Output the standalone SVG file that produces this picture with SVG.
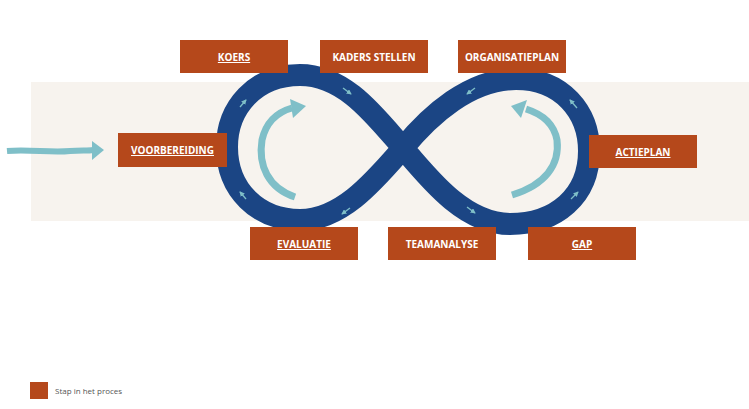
<svg xmlns="http://www.w3.org/2000/svg" width="749" height="409" viewBox="0 0 749 409">
<defs>
<style>
.box{fill:#B5481B}
.lbl{font-family:"Open Sans","Liberation Sans",sans-serif;font-weight:700;font-size:10px;fill:#ffffff;text-anchor:middle}
.u{text-decoration:underline}
.loop{fill:none;stroke:#1B4584;stroke-width:22;stroke-linejoin:round}
.small{fill:none;stroke:#7FBFC8;stroke-width:1.3}
.big{fill:none;stroke:#7FBFC8;stroke-width:7;stroke-linecap:butt}
.head{fill:#7FBFC8}
</style>
<marker id="sa" viewBox="0 0 6 6" refX="5" refY="3" markerWidth="4" markerHeight="4" orient="auto"><path d="M0,0 L6,3 L0,6 Z" fill="#7FBFC8"/></marker>
</defs>
<rect x="0" y="0" width="749" height="409" fill="#ffffff"/>
<rect id="band" x="31" y="82" width="718" height="139" fill="#F7F3EE"/>

<g id="connectors">
<path class="loop" d="M403,148 C430,115 470,79 516,79 C562,79 589,112 589,151 C589,196 556,224 510,224 C465,224 430,180 403,148 C375,116 345,75 300,75 C255,75 227,108 227,147 C227,190 258,220 300,220 C342,220 375,180 403,148 Z"/>
<line class="small" x1="240" y1="107" x2="246" y2="100" marker-end="url(#sa)"/>
<line class="small" x1="246" y1="199" x2="240" y2="192" marker-end="url(#sa)"/>
<line class="small" x1="343" y1="88" x2="351" y2="94" marker-end="url(#sa)"/>
<line class="small" x1="350" y1="208" x2="342" y2="214" marker-end="url(#sa)"/>
<line class="small" x1="467" y1="207" x2="475" y2="213" marker-end="url(#sa)"/>
<line class="small" x1="571" y1="199" x2="578" y2="192" marker-end="url(#sa)"/>
<line class="small" x1="577" y1="108" x2="570" y2="100" marker-end="url(#sa)"/>
<line class="small" x1="475" y1="88" x2="467" y2="94" marker-end="url(#sa)"/>
<path class="big" d="M295,197 C268,188 258,165 262,140 C266,122 278,112 292,108"/>
<path class="head" d="M290,99 L306,106 L293,118 Z"/>
<path class="big" d="M512,195 C545,185 560,165 557,140 C554,124 542,114 526,109"/>
<path class="head" d="M527,100 L511,106 L521,118 Z"/>
<path fill="none" stroke="#7FBFC8" stroke-width="6" d="M7,151 C30,149 50,153 70,151 C80,150 88,151 93,150"/>
<path class="head" d="M92,141 L104,150 L92,160 Z"/>
</g>

<g id="koers"><rect class="box" x="180" y="40" width="108" height="33"/><text class="lbl u" x="234" y="61">KOERS</text></g>
<g id="kaders-stellen"><rect class="box" x="320" y="40" width="108" height="33"/><text class="lbl" x="374" y="61">KADERS STELLEN</text></g>
<g id="organisatieplan"><rect class="box" x="458" y="40" width="108" height="33"/><text class="lbl" x="512" y="61">ORGANISATIEPLAN</text></g>
<g id="voorbereiding"><rect class="box" x="118" y="133" width="109" height="34"/><text class="lbl u" x="172.5" y="154">VOORBEREIDING</text></g>
<g id="actieplan"><rect class="box" x="589" y="135" width="108" height="33"/><text class="lbl u" x="643" y="156">ACTIEPLAN</text></g>
<g id="evaluatie"><rect class="box" x="250" y="227" width="108" height="33"/><text class="lbl u" x="304" y="248">EVALUATIE</text></g>
<g id="teamanalyse"><rect class="box" x="388" y="227" width="108" height="33"/><text class="lbl" x="442" y="248">TEAMANALYSE</text></g>
<g id="gap"><rect class="box" x="528" y="227" width="108" height="33"/><text class="lbl u" x="582" y="248">GAP</text></g>

<g id="legend"><rect class="box" x="30" y="382" width="18" height="17"/><text x="55" y="394" font-family="'Open Sans','Liberation Sans',sans-serif" font-size="8" fill="#555555">Stap in het proces</text></g>
</svg>
